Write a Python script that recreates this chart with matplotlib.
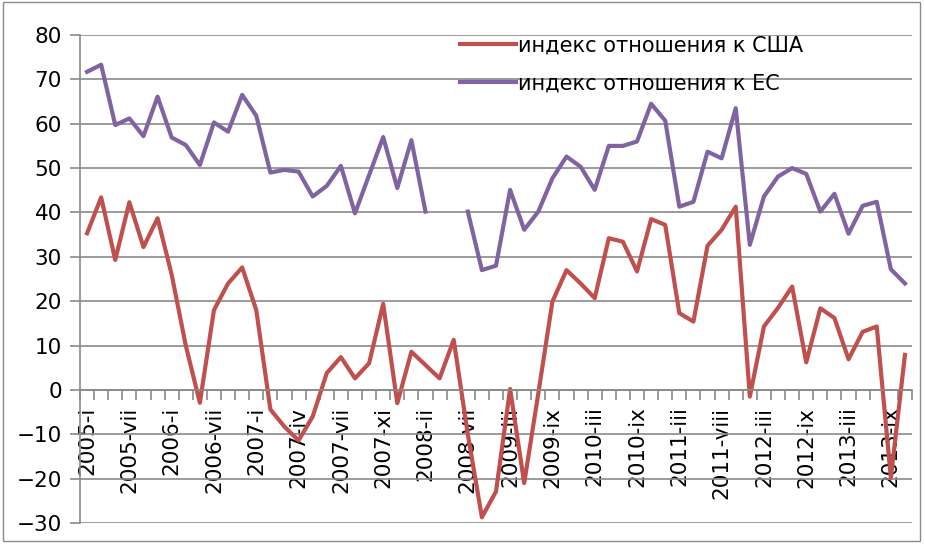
import numpy as np
import matplotlib.pyplot as plt
from matplotlib.patches import Rectangle

# categories (only every third one is labelled on the axis)
n_cat = 59
tick_labels = ['2005-i', '2005-vii', '2006-i', '2006-vii', '2007-i', '2007-iv',
               '2007-vii', '2007-xi', '2008-ii', '2008-vii', '2009-iii', '2009-ix',
               '2010-iii', '2010-ix', '2011-iii', '2011-viii', '2012-iii', '2012-ix',
               '2013-iii', '2013-ix']

usa = [35.3, 43.4, 29.3, 42.3, 32.2, 38.7, 26.0, 10.0, -2.9, 18.0,
       24.0, 27.6, 18.0, -4.4, -8.3, -11.4, -6.0, 3.8, 7.4, 2.6,
       6.0, 19.4, -3.0, 8.6, 5.6, 2.6, 11.3, -10.0, -28.7, -22.9,
       0.2, -21.0, -0.8, 19.9, 27.0, 24.0, 20.7, 34.2, 33.4, 26.7,
       38.5, 37.2, 17.3, 15.4, 32.5, 36.1, 41.3, -1.5, 14.3, 18.5,
       23.3, 6.2, 18.4, 16.2, 6.9, 13.1, 14.3, -19.8, 7.9]

eu = [71.7, 73.3, 59.7, 61.2, 57.2, 66.1, 56.9, 55.2, 50.7, 60.3,
      58.2, 66.5, 61.8, 49.0, 49.6, 49.2, 43.6, 46.0, 50.5, 39.8,
      48.4, 57.0, 45.5, 56.3, 40.2, np.nan, np.nan, 40.2, 27.0, 28.0,
      45.1, 36.1, 40.2, 47.7, 52.6, 50.3, 45.1, 55.0, 55.0, 56.0,
      64.5, 60.7, 41.3, 42.4, 53.7, 52.2, 63.5, 32.7, 43.6, 48.1,
      50.0, 48.7, 40.2, 44.2, 35.2, 41.5, 42.4, 27.2, 24.0]

x = np.arange(n_cat)

fig = plt.figure(figsize=(9.25, 5.44), dpi=100)
ax = fig.add_axes([80 / 925, 1 - 523 / 544, 832 / 925, 488 / 544])

# chart area border
fig.patches.append(Rectangle((0.003, 0.006), 0.992, 0.99, transform=fig.transFigure,
                             fill=False, edgecolor='#8c8c8c', linewidth=1))

ax.plot(x, usa, color='#C0504D', linewidth=3, label='индекс отношения к США')
ax.plot(x, eu, color='#8064A2', linewidth=3, label='индекс отношения к ЕС')

ax.set_xlim(-0.5, n_cat - 0.5)
ax.set_ylim(-30, 80)
ax.set_yticks(range(-30, 81, 10))
ax.yaxis.grid(True, color='#8a8a8a', linewidth=1.2)
ax.set_axisbelow(True)

for s in ['top', 'right']:
    ax.spines[s].set_visible(False)
ax.spines['left'].set_color('#8a8a8a')
ax.spines['left'].set_linewidth(1.2)
ax.spines['bottom'].set_position(('data', 0))
ax.spines['bottom'].set_color('#8a8a8a')
ax.spines['bottom'].set_linewidth(1.2)

ax.set_xticks(x[::3])
ax.set_xticklabels(tick_labels, rotation=90, fontsize=15.5)
ax.set_xticks(np.arange(n_cat + 1) - 0.5, minor=True)
ax.tick_params(axis='x', which='major', length=0, pad=12)
ax.tick_params(axis='x', which='minor', length=7, color='#8a8a8a', width=1.2)
ax.tick_params(axis='y', length=7, color='#8a8a8a', width=1.2, labelsize=15.5, pad=6)

ax.legend(loc='upper left', bbox_to_anchor=(0.434, 1.037), frameon=False,
          fontsize=15, handlelength=2.7, handletextpad=0.1, labelspacing=0.85)

fig.savefig('out.png', dpi=100)
